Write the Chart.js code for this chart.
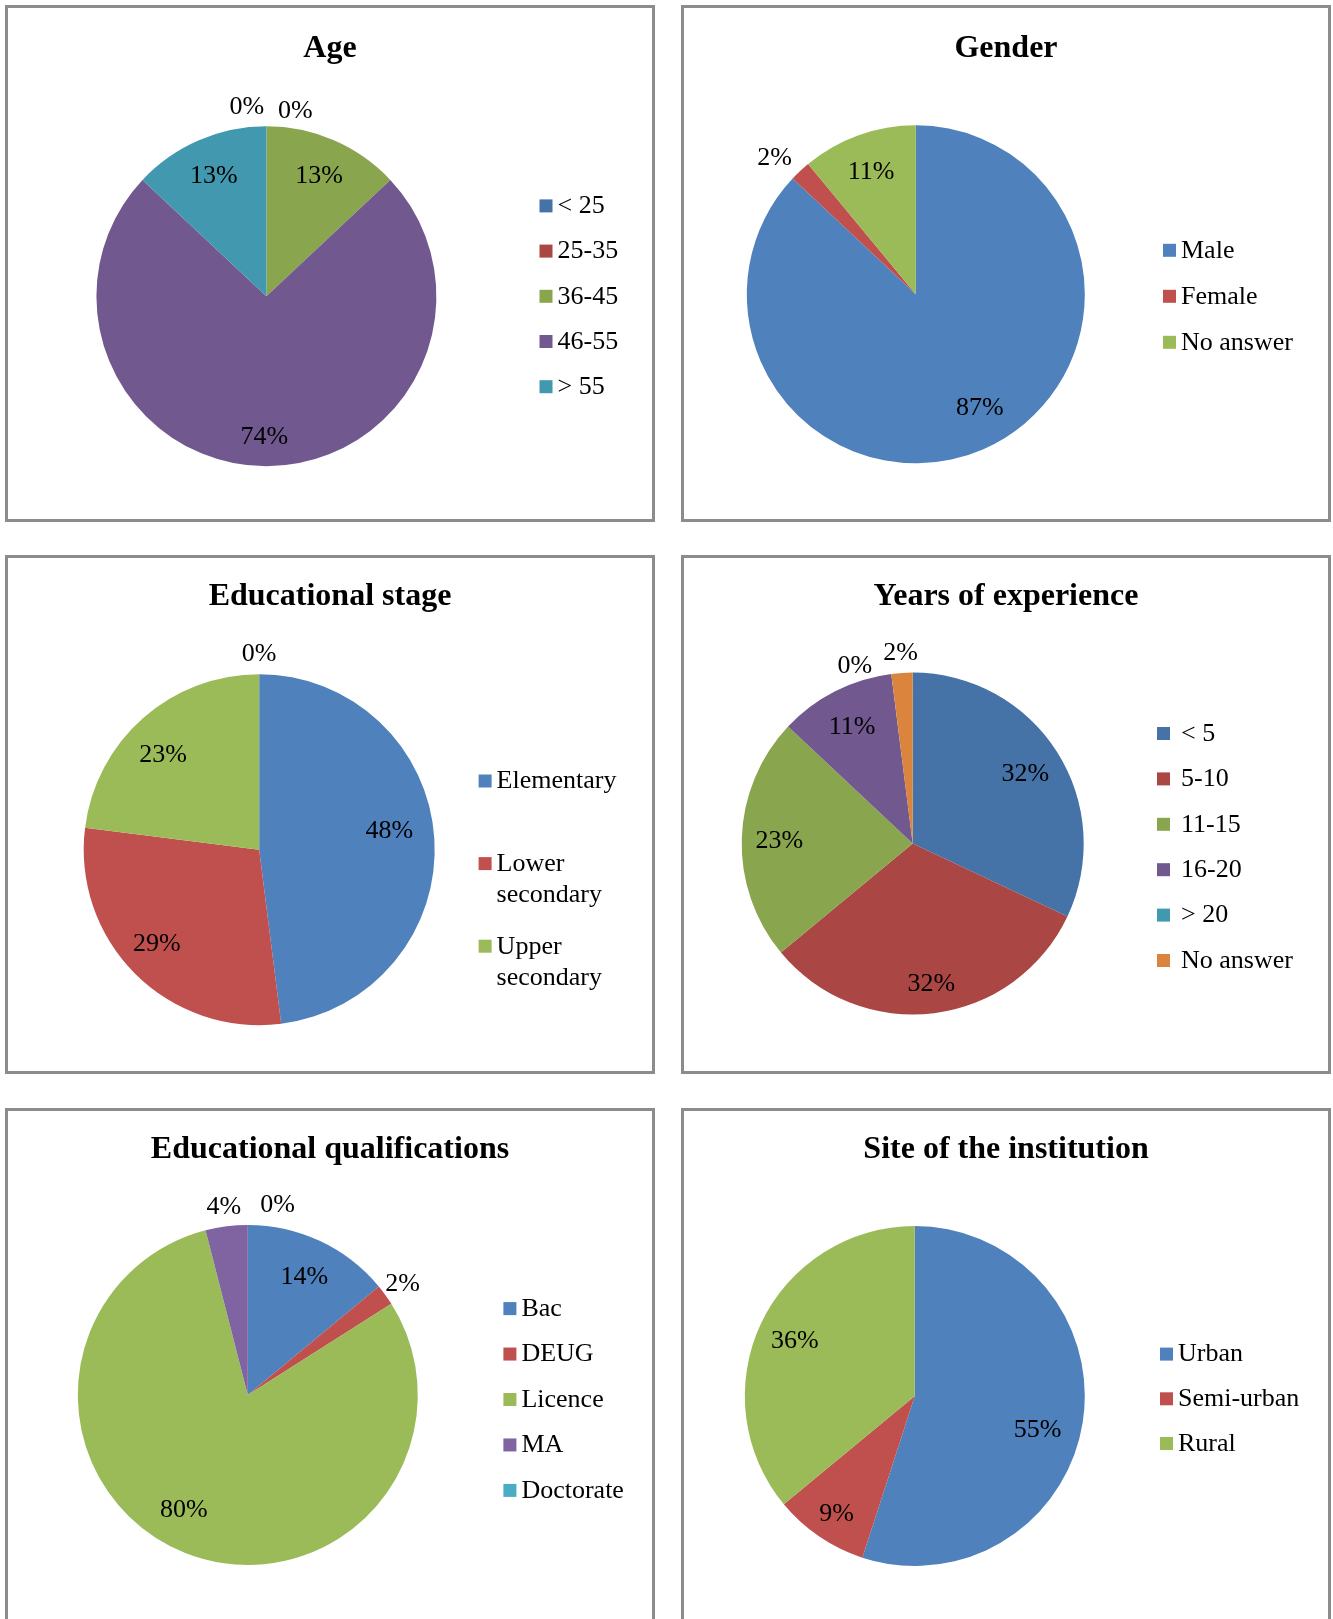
<!DOCTYPE html>
<html>
<head>
<meta charset="utf-8">
<title>Respondent profile</title>
<script src="https://cdn.jsdelivr.net/npm/chart.js@4.4.1/dist/chart.umd.min.js"></script>
<style>
  html, body { margin: 0; padding: 0; background: #fff; }
  body { width: 1333px; height: 1619px; overflow: hidden; position: relative; }
  .panel { position: absolute; width: 644px; height: 511px; border: 3px solid #8c8c8c; background: #fff; }
  .panel canvas { display: block; }
</style>
</head>
<body>
<div class="panel" style="left:5px;top:5px"><canvas id="c-age" width="644" height="511"></canvas></div>
<div class="panel" style="left:681px;top:5px"><canvas id="c-gender" width="644" height="511"></canvas></div>
<div class="panel" style="left:5px;top:555px;height:513px"><canvas id="c-stage" width="644" height="513"></canvas></div>
<div class="panel" style="left:681px;top:555px;height:513px"><canvas id="c-exp" width="644" height="513"></canvas></div>
<div class="panel" style="left:5px;top:1108px"><canvas id="c-qual" width="644" height="511"></canvas></div>
<div class="panel" style="left:681px;top:1108px"><canvas id="c-site" width="644" height="511"></canvas></div>

<script>
// ── data (percent of respondents) ──
const ageLabels = ['< 25', '25-35', '36-45', '46-55', '> 55'];
const ageValues = [0, 0, 13, 74, 13];

const genderLabels = ['Male', 'Female', 'No answer'];
const genderValues = [87, 2, 11];

const stageLabels = ['Elementary', ['Lower', 'secondary'], ['Upper', 'secondary'], ''];
const stageValues = [48, 29, 23, 0];

const expLabels = ['< 5', '5-10', '11-15', '16-20', '> 20', 'No answer'];
const expValues = [32, 32, 23, 11, 0, 2];

const qualLabels = ['Bac', 'DEUG', 'Licence', 'MA', 'Doctorate'];
const qualValues = [14, 2, 80, 4, 0];

const siteLabels = ['Urban', 'Semi-urban', 'Rural'];
const siteValues = [55, 9, 36];

// Excel 2007 palettes
const darkPalette = ['#4572A7', '#AA4643', '#89A54E', '#71588F', '#4198AF', '#DB843D'];
const officePalette = ['#4F81BD', '#C0504D', '#9BBB59', '#8064A2', '#4BACC6', '#F79646'];

const SERIF = '"Liberation Serif", "Times New Roman", Times, serif';
const W = 644;

// title, percentage labels and legend drawn Excel-style
const excelPie = {
  id: 'excelPie',
  afterDatasetsDraw(chart) {
    const o = chart.options.plugins.excelPie;
    const ctx = chart.ctx;
    const ds = chart.data.datasets[0];
    const meta = chart.getDatasetMeta(0);
    ctx.save();
    ctx.fillStyle = '#000';

    // title
    ctx.font = 'bold 32px ' + SERIF;
    ctx.textAlign = 'center';
    ctx.textBaseline = 'middle';
    ctx.fillText(o.title, W / 2, o.titleY || 41);

    // data labels: inside for big slices, outside for small ones
    ctx.font = '26px ' + SERIF;
    meta.data.forEach((arc, i) => {
      const p = arc.getProps(['x', 'y', 'startAngle', 'endAngle', 'outerRadius'], true);
      const mid = (p.startAngle + p.endAngle) / 2;
      const k = ds.data[i] < 5 ? 1.125 : 0.78;
      const n = (o.nudge && o.nudge[i]) || [0, 0];
      ctx.fillText(ds.data[i] + '%',
        p.x + Math.cos(mid) * p.outerRadius * k + n[0],
        p.y + Math.sin(mid) * p.outerRadius * k + n[1] + 2);
    });

    // legend
    ctx.textAlign = 'left';
    const gap = o.legend.gap || 18;
    let y = o.legend.y0 + 2;
    chart.data.labels.forEach((lab, i) => {
      if (lab === '') return;
      ctx.fillStyle = ds.backgroundColor[i];
      ctx.fillRect(o.legend.x - gap, y - 7, 13, 13);
      ctx.fillStyle = '#000';
      const lines = Array.isArray(lab) ? lab : [lab];
      lines.forEach((t, j) => ctx.fillText(t, o.legend.x, y + j * (o.legend.lineHeight || 31)));
      y += o.legend.step;
    });
    ctx.restore();
  }
};

function makePie(id, labels, values, colors, o) {
  const canvas = document.getElementById(id);
  const H = canvas.height;
  return new Chart(canvas, {
    type: 'pie',
    data: {
      labels,
      datasets: [{ data: values, backgroundColor: colors.slice(0, values.length), borderWidth: 0, hoverOffset: 0 }]
    },
    options: {
      responsive: false,
      animation: false,
      events: [],
      layout: { padding: { left: o.cx - o.r, right: W - o.cx - o.r, top: o.cy - o.r, bottom: H - o.cy - o.r } },
      plugins: {
        legend: { display: false },
        tooltip: { enabled: false },
        title: { display: false },
        excelPie: o
      }
    },
    plugins: [excelPie]
  });
}

makePie('c-age', ageLabels, ageValues, darkPalette, {
  title: 'Age', cx: 258.4, cy: 288.3, r: 170,
  nudge: { 0: [-19.6, 0], 1: [28.9, 4.4], 3: [-2, 6] },
  legend: { x: 549.5, y0: 196.4, step: 45.2 }
});

makePie('c-gender', genderLabels, genderValues, officePalette, {
  title: 'Gender', cx: 231.8, cy: 286.3, r: 169,
  nudge: { 0: [11.7, -9.4], 1: [-11, 0] },
  legend: { x: 497, y0: 240.8, step: 46 }
});

makePie('c-stage', stageLabels, stageValues, officePalette, {
  title: 'Educational stage', titleY: 39, cx: 251.2, cy: 291.7, r: 175.5,
  nudge: { 0: [-6.5, -12], 1: [-5.5, -4], 2: [-5.6, 5.7] },
  legend: { x: 488.6, y0: 221.5, step: 82.6, lineHeight: 31 }
});

makePie('c-exp', expLabels, expValues, darkPalette, {
  title: 'Years of experience', titleY: 39, cx: 228.7, cy: 285.6, r: 171,
  nudge: { 1: [2, 6], 4: [-33.7, 11.2] },
  legend: { x: 497, y0: 174, step: 45.4, gap: 24 }
});

makePie('c-qual', qualLabels, qualValues, officePalette, {
  title: 'Educational qualifications', titleY: 39, cx: 239.8, cy: 283.9, r: 170,
  nudge: { 2: [-15.2, -9.7], 4: [29.9, 0] },
  legend: { x: 513.4, y0: 196.1, step: 45.45 }
});

makePie('c-site', siteLabels, siteValues, officePalette, {
  title: 'Site of the institution', titleY: 39, cx: 230.8, cy: 285, r: 170,
  nudge: { 0: [-8.1, 11.3], 1: [-3.6, 6.8] },
  legend: { x: 494, y0: 241.6, step: 44.7 }
});
</script>
</body>
</html>
